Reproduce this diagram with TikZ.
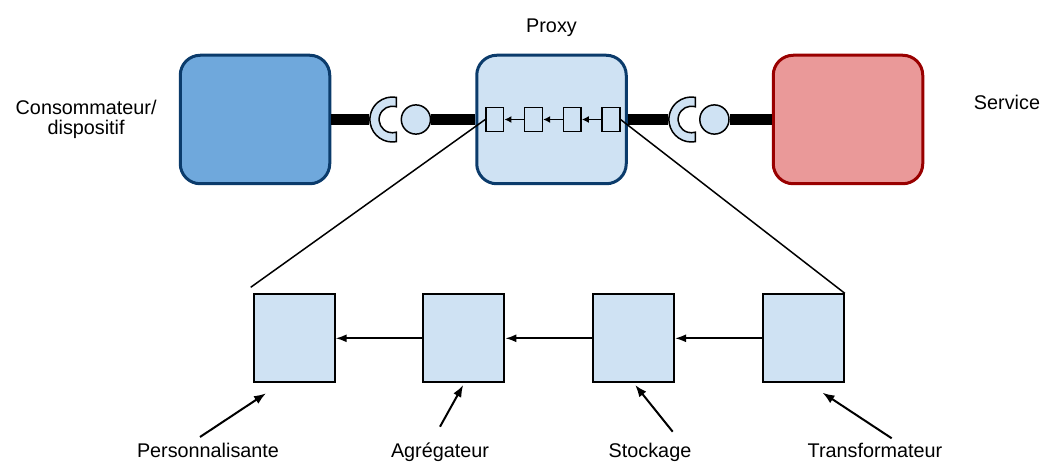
\documentclass[tikz,border=0pt]{standalone}
\usepackage{fontspec}
\setmainfont{Liberation Sans}
\usetikzlibrary{arrows.meta}
\usetikzlibrary{positioning}
\definecolor{navy}{HTML}{0B3B6B}
\definecolor{darkred}{HTML}{990000}
\definecolor{consfill}{HTML}{6FA8DC}
\definecolor{paleblue}{HTML}{CFE2F3}
\definecolor{rosefill}{HTML}{EA9999}

\begin{document}
\begin{tikzpicture}[x=1pt, y=-1pt,
    bigbox/.style={rectangle, rounded corners=20pt, line width=3pt, minimum width=149.5pt, minimum height=128.5pt},
    chainbox/.style={rectangle, draw, fill=paleblue, line width=1.5pt, minimum width=17.7pt, minimum height=24.2pt, inner sep=0pt},
    stagebox/.style={rectangle, draw, fill=paleblue, line width=2pt, minimum width=81pt, minimum height=88pt, inner sep=0pt},
    ball/.style={circle, draw, fill=paleblue, line width=1.5pt, minimum size=29.2pt, inner sep=0pt},
    bar/.style={line width=10.5pt},
    lbl/.style={inner sep=0pt, font=\fontsize{19.8}{20}\selectfont},
    flow/.style={line width=1.6pt, -{Latex[length=11pt,width=8pt]}},
    smallflow/.style={line width=1.4pt, -{Latex[length=7pt,width=7pt]}},
    pointer/.style={line width=2pt, -{Latex[length=12pt,width=9pt]}},
  ]
  \useasboundingbox (0,0) rectangle (1042,462);

  % top row
  \node[bigbox, draw=navy, fill=consfill] (consumer) at (255,119.5) {};
  \node[bigbox, draw=navy, fill=paleblue, right=144pt of consumer] (proxy) {};
  \node[bigbox, draw=darkred, fill=rosefill, right=144pt of proxy] (service) {};

  \node[lbl, align=center, left=22pt of consumer] (consumerlbl) {Consommateur/\\dispositif};
  \node[lbl, above=16.5pt of proxy] (proxylbl) {Proxy};
  \node[lbl, anchor=base] (servicelbl) at (1007,110) {Service};

  % interfaces
  \node[ball, left=44pt of proxy] (ballL) {};
  \node[ball, left=42pt of service] (ballR) {};
  \coordinate (sockL) at ([xshift=-23.5pt]ballL.center);
  \coordinate (sockR) at ([xshift=-23pt]ballR.center);

  \draw[bar] (consumer.east) -- ([xshift=-23pt]sockL);
  \draw[bar] (ballL) -- (proxy.west);
  \draw[bar] (proxy.east) -- ([xshift=-23pt]sockR);
  \draw[bar] (ballR) -- (service.west);

  \foreach \s in {sockL,sockR}
    \filldraw[fill=paleblue, line width=1.5pt] ([shift={(80:22.5)}]\s) arc[start angle=80, end angle=280, radius=22.5]
      -- ([shift={(-72.5:13.3)}]\s) arc[start angle=-72.5, end angle=-287.5, radius=13.3] -- cycle;

  % chain inside the proxy
  \node[chainbox, right=10pt of proxy.west] (s1) {};
  \node[chainbox, right=19.5pt of s1] (s2) {};
  \node[chainbox, right=19.5pt of s2] (s3) {};
  \node[chainbox, right=19.5pt of s3] (s4) {};
  \draw[smallflow] (s2) -- (s1);
  \draw[smallflow] (s3) -- (s2);
  \draw[smallflow] (s4) -- (s3);

  % detailed chain
  \node[stagebox] (pers) at (294.2,338.3) {};
  \node[stagebox, right=86.7pt of pers] (aggr) {};
  \node[stagebox, right=86.7pt of aggr] (store) {};
  \node[stagebox, right=86.7pt of store] (trans) {};
  \draw[flow] (aggr) -- (pers);
  \draw[flow] (store) -- (aggr);
  \draw[flow] (trans) -- (store);

  \draw[line width=1.5pt] (s1.west) -- ([xshift=-2pt,yshift=6pt]pers.north west);
  \draw[line width=1.5pt] (s4.east) -- (trans.north east);

  \node[lbl, anchor=base] (perslbl) at (208,457) {Personnalisante};
  \node[lbl, anchor=base] (aggrlbl) at (440,457) {Agrégateur};
  \node[lbl, anchor=base] (storelbl) at (650,457) {Stockage};
  \node[lbl, anchor=base] (translbl) at (875,457) {Transformateur};

  \draw[pointer] ([xshift=-8pt,yshift=20pt]perslbl.base) -- ([xshift=13.3pt,yshift=-10pt]pers.south west);
  \draw[pointer] ([yshift=30.3pt]aggrlbl.base) -- ([xshift=-0.7pt,yshift=-1.7pt]aggr.south);
  \draw[pointer] ([xshift=22.7pt,yshift=25.3pt]storelbl.base) -- ([xshift=1.6pt,yshift=-1.7pt]store.south);
  \draw[pointer] ([xshift=16.7pt,yshift=18.7pt]translbl.base) -- ([xshift=-22.3pt,yshift=-9.4pt]trans.south east);
\end{tikzpicture}
\end{document}
